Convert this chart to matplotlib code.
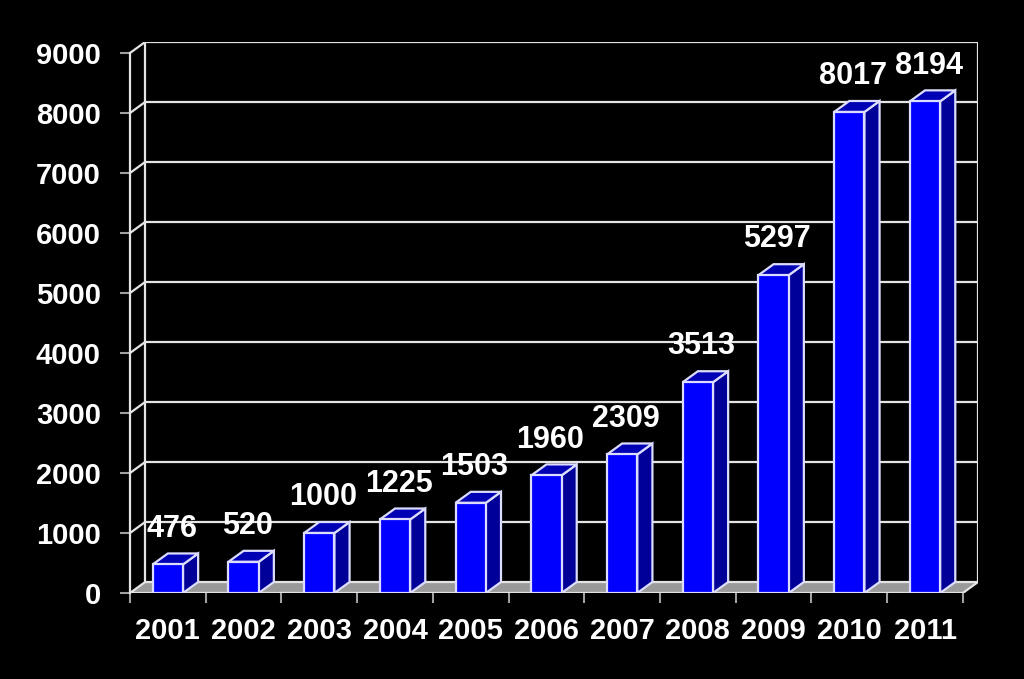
import matplotlib
matplotlib.use("Agg")
import matplotlib.pyplot as plt
from matplotlib.patches import Polygon

years = ["2001", "2002", "2003", "2004", "2005", "2006", "2007", "2008", "2009", "2010", "2011"]
values = [476, 520, 1000, 1225, 1503, 1960, 2309, 3513, 5297, 8017, 8194]
yticks = [0, 1000, 2000, 3000, 4000, 5000, 6000, 7000, 8000, 9000]

plt.rcParams['font.family'] = ['Liberation Sans', 'DejaVu Sans']

W, H = 1024, 679
fig = plt.figure(figsize=(W / 100, H / 100), dpi=100, facecolor='black')
ax = fig.add_axes([130 / W, 86 / H, 848 / W, 551 / H])
ax.set_facecolor('black')

n = len(years)
dxd = 0.2      # depth in category units
dyd = 183      # depth in value units
ymax = yticks[-1]
bw = 0.4
x0, x1 = -0.5, n - 0.5

ax.set_xlim(x0, x1 + dxd)
ax.set_ylim(0, ymax + dyd)

grid_c = '#e4e4e4'
lw = 1.6

# back wall gridlines and side-wall connectors
for t in yticks[1:]:
    ax.plot([x0 + dxd, x1 + dxd], [t + dyd, t + dyd], color=grid_c, lw=lw, zorder=1)
    ax.plot([x0, x0 + dxd], [t, t + dyd], color=grid_c, lw=lw, zorder=1)
# back wall verticals
ax.plot([x0 + dxd, x0 + dxd], [dyd, ymax + dyd], color=grid_c, lw=lw, zorder=1)
ax.plot([x1 + dxd, x1 + dxd], [dyd, ymax + dyd], color=grid_c, lw=lw, zorder=1)

# floor
floor = Polygon([(x0, 0), (x1, 0), (x1 + dxd, dyd), (x0 + dxd, dyd)], closed=True,
                facecolor='#9a9a9a', edgecolor=grid_c, lw=lw, zorder=2)
ax.add_patch(floor)

# bars
edge = '#dcdcff'
for i, v in enumerate(values):
    l, r = i - bw / 2, i + bw / 2
    side = Polygon([(r, 0), (r + dxd, dyd), (r + dxd, v + dyd), (r, v)], closed=True,
                   facecolor='#000099', edgecolor=edge, lw=lw, zorder=3)
    top = Polygon([(l, v), (r, v), (r + dxd, v + dyd), (l + dxd, v + dyd)], closed=True,
                  facecolor='#0000b4', edgecolor=edge, lw=lw, zorder=3)
    front = Polygon([(l, 0), (r, 0), (r, v), (l, v)], closed=True,
                    facecolor='#0000ff', edgecolor=edge, lw=lw, zorder=4)
    for p in (side, top, front):
        ax.add_patch(p)
    ax.annotate(f"{v}", xy=(i + dxd / 4, v), xytext=(0, 15), textcoords='offset points',
                ha='center', va='bottom', color='white', fontsize=22, fontweight='bold',
                zorder=6)

# axes
for s in ('top', 'right', 'bottom'):
    ax.spines[s].set_visible(False)
ax.spines['left'].set_color(grid_c)
ax.spines['left'].set_linewidth(lw)
ax.spines['left'].set_bounds(0, ymax)
ax.spines['left'].set_zorder(5)

ax.set_yticks(yticks)
ax.set_yticklabels([str(t) for t in yticks], fontweight='bold')
ax.tick_params(axis='y', colors='#a0a0a0', length=7, width=1.5, pad=14,
               labelcolor='white', labelsize=21)

ax.set_xticks([x0 + k for k in range(n + 1)], minor=True)
ax.set_xticks(range(n))
ax.set_xticklabels(years, fontweight='bold')
ax.tick_params(axis='x', which='major', length=0, pad=17, labelcolor='white', labelsize=21)
ax.tick_params(axis='x', which='minor', length=7, width=1.5, colors='#a0a0a0')

fig.savefig('out.png', dpi=100, facecolor='black')
